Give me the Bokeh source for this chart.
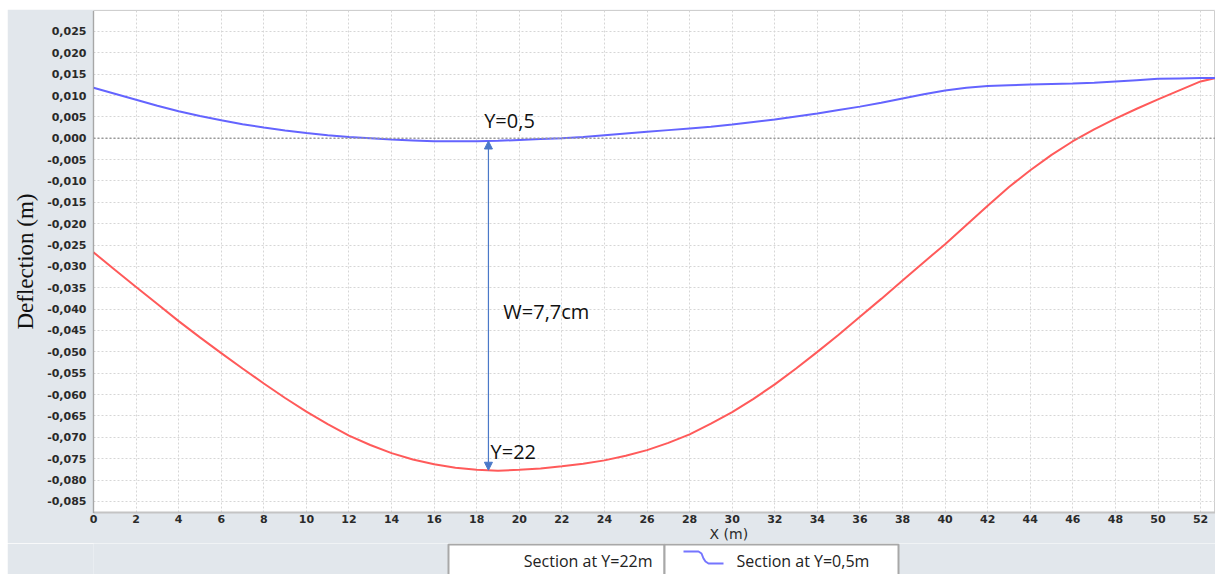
from bokeh.plotting import figure
from bokeh.layouts import column
from bokeh.models import (Range1d, FixedTicker, Span, Label, Arrow, NormalHead,
                          ColumnDataSource, Title)
from bokeh.embed import file_html
from bokeh.resources import INLINE
import numpy as np

# Station along the span (m)
x_pos = [0, 1, 2, 3, 4, 5, 6, 7, 8, 9, 10, 11, 12, 13, 14, 15, 16, 17, 18,
         19, 20, 21, 22, 23, 24, 25, 26, 27, 28, 29, 30, 31, 32, 33, 34, 35,
         36, 37, 38, 39, 40, 41, 42, 43, 44, 45, 46, 47, 48, 49, 50, 51, 52,
         52.7]

# Deflection of the section at Y=0,5 m (m)
defl_y05 = [0.0118, 0.0104, 0.0090, 0.0076, 0.0063, 0.0052, 0.0042, 0.0033,
            0.0025, 0.0018, 0.0012, 0.0007, 0.0003, 0.0000, -0.0003, -0.0005,
            -0.0007, -0.0007, -0.0007, -0.0006, -0.0004, -0.0002, 0.0000,
            0.0003, 0.0007, 0.0011, 0.0015, 0.0019, 0.0023, 0.0027, 0.0032,
            0.0038, 0.0044, 0.0051, 0.0058, 0.0066, 0.0074, 0.0083, 0.0093,
            0.0103, 0.0112, 0.0118, 0.0122, 0.0124, 0.0126, 0.0127, 0.0128,
            0.0130, 0.0133, 0.0136, 0.0139, 0.0140, 0.0141, 0.0141]

# Deflection of the section at Y=22 m (m)
defl_y22 = [-0.0267, -0.0308, -0.0348, -0.0388, -0.0428, -0.0466, -0.0503,
            -0.0539, -0.0574, -0.0608, -0.0640, -0.0669, -0.0696, -0.0718,
            -0.0737, -0.0752, -0.0763, -0.0771, -0.0776, -0.0778, -0.0776,
            -0.0773, -0.0768, -0.0762, -0.0754, -0.0743, -0.0730, -0.0713,
            -0.0693, -0.0668, -0.0641, -0.0610, -0.0576, -0.0539, -0.0500,
            -0.0460, -0.0418, -0.0376, -0.0333, -0.0290, -0.0248, -0.0203,
            -0.0158, -0.0114, -0.0075, -0.0039, -0.0007, 0.0021, 0.0046,
            0.0069, 0.0091, 0.0112, 0.0133, 0.0141]

x_ticks = list(range(0, 53, 2))
y_ticks = [0.025, 0.020, 0.015, 0.010, 0.005, 0.000, -0.005, -0.010, -0.015,
           -0.020, -0.025, -0.030, -0.035, -0.040, -0.045, -0.050, -0.055,
           -0.060, -0.065, -0.070, -0.075, -0.080, -0.085]
y_tick_labels = ["0,025", "0,020", "0,015", "0,010", "0,005", "0,000",
                 "-0,005", "-0,010", "-0,015", "-0,020", "-0,025", "-0,030",
                 "-0,035", "-0,040", "-0,045", "-0,050", "-0,055", "-0,060",
                 "-0,065", "-0,070", "-0,075", "-0,080", "-0,085"]

# Location of the measured maximum difference
x_measure = 18.55

PANEL = "#e2e7ec"
BLUE = "#6464ff"
RED = "#ff5a5a"
NOTE_FONT = "Open Sans"

p = figure(width=1208, height=534,
           x_range=Range1d(0, 52.7), y_range=Range1d(-0.0876, 0.0299),
           output_backend="svg", toolbar_location=None,
           min_border_left=86, min_border_right=0, min_border_top=1,
           min_border_bottom=29,
           background_fill_color="white", border_fill_color=PANEL,
           outline_line_color="#cfcfcf", outline_line_width=1)
p.margin = (9, 0, 0, 7)

# axes
p.xaxis.ticker = FixedTicker(ticks=x_ticks)
p.yaxis.ticker = FixedTicker(ticks=y_ticks)
p.yaxis.major_label_overrides = {t: s for t, s in zip(y_ticks, y_tick_labels)}
for ax in (p.xaxis, p.yaxis):
    ax.major_tick_line_color = None
    ax.minor_tick_line_color = None
    ax.major_tick_out = 0
    ax.major_tick_in = 0
    ax.minor_tick_out = 0
    ax.minor_tick_in = 0
    ax.major_label_text_font = "DejaVu Sans"
    ax.major_label_text_font_style = "bold"
    ax.major_label_text_font_size = "11px"
    ax.major_label_text_color = "#2a2a2a"
p.yaxis.major_label_standoff = 7
p.xaxis.major_label_standoff = 2
p.yaxis.axis_line_color = "#808080"
p.yaxis.axis_line_width = 1.5
p.yaxis.axis_line_dash = "1 1"
p.xaxis.axis_line_color = "#c4c4c4"
p.xaxis.axis_line_width = 2

p.yaxis.axis_label = "Deflection (m)"
p.yaxis.axis_label_text_font = "Liberation Serif"
p.yaxis.axis_label_text_font_style = "normal"
p.yaxis.axis_label_text_font_size = "23px"
p.yaxis.axis_label_text_color = "#111111"
p.yaxis.axis_label_standoff = 6

# x axis title, set a little right of the frame centre
p.add_layout(Title(text="X (m)", align="left", offset=616, standoff=0,
                   vertical_align="top",
                   text_font="DejaVu Sans", text_font_size="14px",
                   text_font_style="normal", text_color="#2a2a2a"), "below")

# grid
for g in (p.xgrid, p.ygrid):
    g.grid_line_color = "#d6d6d6"
    g.grid_line_dash = "2 2"
    g.grid_line_width = 1

p.add_layout(Span(location=0, dimension="width", line_color="#9a9a9a",
                  line_dash="2 2", line_width=1.5))

src = ColumnDataSource(dict(x=x_pos, y05=defl_y05, y22=defl_y22))
p.line("x", "y22", source=src, line_color=RED, line_width=2)
p.line("x", "y05", source=src, line_color=BLUE, line_width=2)

# measured gap between the two sections
top_val = float(np.interp(x_measure, x_pos, defl_y05))
bot_val = float(np.interp(x_measure, x_pos, defl_y22))
arrow_col = "#4a78c8"
p.add_layout(Arrow(x_start=x_measure, y_start=top_val,
                   x_end=x_measure, y_end=bot_val,
                   line_color=arrow_col, line_width=1.2,
                   start=NormalHead(size=8, fill_color=arrow_col, line_color=arrow_col),
                   end=NormalHead(size=8, fill_color=arrow_col, line_color=arrow_col)))

gap_cm = round((top_val - bot_val) * 100, 1)
p.add_layout(Label(x=x_measure - 0.2, y=top_val + 0.0048, text="Y=0,5",
                   text_font=NOTE_FONT, text_font_size="20px",
                   text_color="#111111", text_baseline="middle"))
p.add_layout(Label(x=x_measure + 0.1, y=bot_val + 0.0045, text="Y=22",
                   text_font=NOTE_FONT, text_font_size="20px",
                   text_color="#111111", text_baseline="middle"))
p.add_layout(Label(x=x_measure + 0.7, y=-0.0405,
                   text="W=" + f"{gap_cm:.1f}".replace(".", ",") + "cm",
                   text_font=NOTE_FONT, text_font_size="20px",
                   text_color="#111111", text_baseline="middle"))

# legend strip (its frame lines up with the plot frame above)
leg = figure(width=1208, height=31, x_range=Range1d(93, 1215),
             y_range=Range1d(574, 543), output_backend="svg",
             toolbar_location=None, min_border=0,
             x_axis_type=None, y_axis_type=None,
             background_fill_color=PANEL, border_fill_color=PANEL,
             outline_line_color=None)
leg.margin = (0, 0, 0, 7)
leg.xgrid.visible = False
leg.ygrid.visible = False
leg.quad(left=[448, 664], right=[664, 898], top=[544, 544], bottom=[580, 580],
         fill_color="white", line_color="#a8a8a8", line_width=2)
leg.text(x=[652], y=[560], text=["Section at Y=22m"], text_align="right",
         text_baseline="middle", text_font={"value": NOTE_FONT},
         text_font_size="16px", text_color="#222222")
leg.text(x=[736], y=[560], text=["Section at Y=0,5m"], text_align="left",
         text_baseline="middle", text_font={"value": NOTE_FONT},
         text_font_size="16px", text_color="#222222")
leg.line(x=[683, 698, 701, 703, 705, 708, 723],
         y=[551, 551, 553, 558, 561, 563, 563],
         line_color="#7575ff", line_width=2)

layout = column(p, leg, spacing=0)
open("out.html", "w").write(file_html(layout, INLINE))
